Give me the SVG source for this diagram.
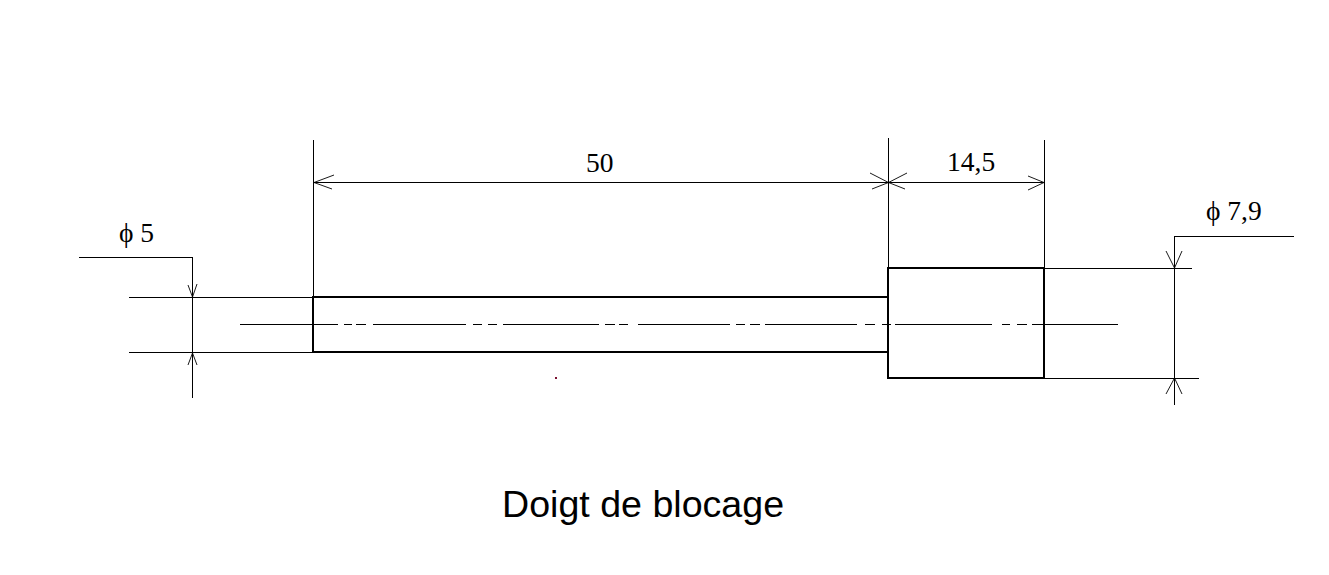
<svg xmlns="http://www.w3.org/2000/svg" width="1329" height="575" viewBox="0 0 1329 575">
<style>
.thin{fill:none;stroke:#000;stroke-width:1}
.thick{fill:none;stroke:#000;stroke-width:2;shape-rendering:crispEdges}
.arrow{fill:none;stroke:#000;stroke-width:.9}
.dim{font-family:"Liberation Serif","Times New Roman",serif;font-size:27.5px;fill:#000}
.title{font-family:"Liberation Sans",Arial,sans-serif;font-size:37.6px;fill:#000}
</style>
<rect width="1329" height="575" fill="#fff"/>
<g id="connectors">
<path class="thin" shape-rendering="crispEdges" d="M313.5 140V297M888.5 138V268M1044.5 140V268M313 182.500H1044M129 297.500H313M129 352.500H313M79 257.500H192.500V398M1044 268.500H1192M1044 378.500H1199M1294 236.500H1174.500V405"/>
<path class="thin" shape-rendering="crispEdges" d="M240 324.500H338M344 324.500H352M356 324.500H366M373 324.500H466M473 324.500H482M488 324.500H497M503 324.500H599M605 324.500H615M619 324.500H628M638 324.500H730M736 324.500H745M750 324.500H760M765 324.500H857M865 324.500H875M882 324.500H891M895 324.500H992M1002 324.500H1010M1017 324.500H1027M1032 324.500H1118"/>
<path class="arrow" d="M334 175L314 182.500L332 189M870 173L888.500 182.500L872 189M907 173L888.500 182.500L905 189M1028 176L1044 182.500L1028 190"/>
<path class="arrow" d="M188 285L192.500 297L197 284M188 365L192.500 353L197 365M1166 251L1174.500 268L1182 251M1166 394L1174.500 378L1182 394"/>
</g>
<g id="shaft"><rect class="thick" x="313" y="297" width="575" height="55"/></g>
<g id="collar"><rect class="thick" x="888" y="268" width="156" height="110"/></g>
<rect id="speck" x="555" y="377" width="2" height="2" fill="#7a1030"/>
<g id="label-50"><text class="dim" x="586" y="172">50</text></g>
<g id="label-14-5"><text class="dim" x="947" y="171">14,5</text></g>
<g id="label-d5"><text class="dim" x="119" y="242">ϕ 5</text></g>
<g id="label-d7-9"><text class="dim" x="1206" y="220">ϕ 7,9</text></g>
<g id="title"><text class="title" x="502" y="517">Doigt de blocage</text></g>
</svg>
